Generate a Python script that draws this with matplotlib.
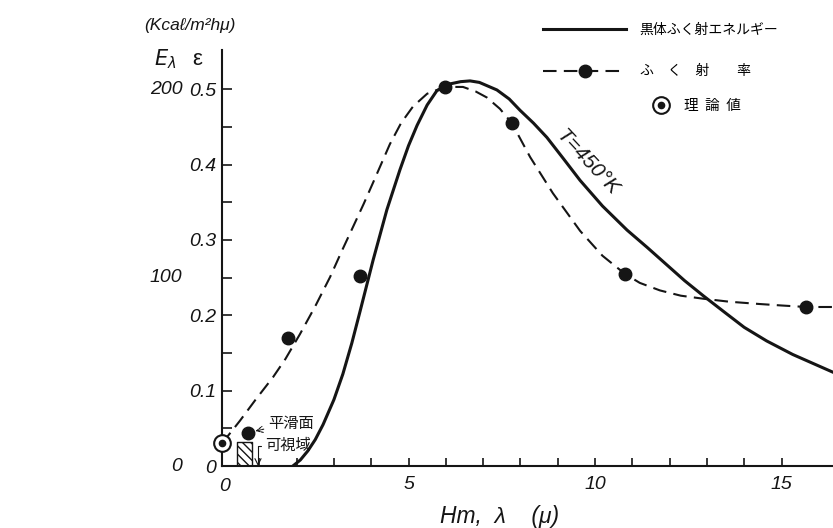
import matplotlib
matplotlib.use("Agg")
import matplotlib.pyplot as plt
from matplotlib.lines import Line2D
from matplotlib.legend_handler import HandlerTuple
from matplotlib.ticker import FixedLocator
import matplotlib.transforms as mtransforms

# black body energy at T=450 K (read on the emissivity scale)
bb_lam = [1.90, 2.10, 2.30, 2.50, 2.71, 3.00, 3.24, 3.48, 3.70, 4.05, 4.42, 4.77,
          5.00, 5.23, 5.50, 5.76, 6.11, 6.40, 6.65, 6.90, 7.37, 7.70, 7.99, 8.35,
          8.71, 9.15, 9.60, 10.20, 10.86, 11.40, 11.90, 12.40, 12.90, 13.50,
          14.00, 14.60, 15.30, 16.40]
bb_eps = [0.000, 0.008, 0.020, 0.035, 0.055, 0.088, 0.122, 0.163, 0.205, 0.273,
          0.340, 0.393, 0.425, 0.452, 0.479, 0.498, 0.507, 0.510, 0.511, 0.509,
          0.499, 0.487, 0.472, 0.455, 0.436, 0.408, 0.379, 0.345, 0.313, 0.290,
          0.268, 0.246, 0.226, 0.203, 0.184, 0.166, 0.148, 0.124]

# emissivity curve (dashed)
em_lam = [0.00, 0.48, 0.90, 1.37, 1.70, 2.09, 2.50, 2.90, 3.20, 3.51, 3.80, 4.05,
          4.50, 4.80, 5.12, 5.50, 5.98, 6.46, 6.80, 7.10, 7.45, 7.77, 8.26, 8.87,
          9.60, 10.20, 10.80, 11.20, 11.74, 12.30, 12.90, 13.60, 14.40, 15.00,
          15.66, 16.40]
em_eps = [0.030, 0.060, 0.088, 0.118, 0.142, 0.175, 0.212, 0.251, 0.284, 0.317,
          0.348, 0.376, 0.427, 0.455, 0.477, 0.494, 0.503, 0.503, 0.497, 0.489,
          0.474, 0.455, 0.410, 0.362, 0.312, 0.279, 0.255, 0.243, 0.233, 0.226,
          0.222, 0.218, 0.215, 0.213, 0.211, 0.211]

# measured emissivity
pt_lam = [0.70, 1.77, 3.70, 5.98, 7.77, 10.80, 15.66]
pt_eps = [0.044, 0.170, 0.252, 0.503, 0.455, 0.255, 0.211]

# theoretical value
th_lam = [0.0]
th_eps = [0.030]

# visible range
vis_band = [0.4, 0.8]
vis_top = 0.032

eps_ticks = [0, 0.1, 0.2, 0.3, 0.4, 0.5]
eps_labels = ["0", "0.1", "0.2", "0.3", "0.4", "0.5"]
eps_minor = [0.05, 0.15, 0.25, 0.35, 0.45]
E_pos = [0, 0.25, 0.5]
E_labels = ["0", "100", "200"]
lam_ticks = [5, 10, 15]
lam_labels = ["5", "10", "15"]
lam_minor = list(range(1, 16))

NUM = ["Liberation Sans", "DejaVu Sans"]
JP = ["Noto Sans CJK JP", "DejaVu Sans"]
INK = "#151515"

fig = plt.figure(figsize=(8.33, 5.28), dpi=100)
ax = fig.add_axes([0.2665, 0.1174, 0.7335, 0.7879])
ax.set_xlim(0, 16.38)
ax.set_ylim(0, 0.552)
for s in ["top", "right"]:
    ax.spines[s].set_visible(False)
for s in ["left", "bottom"]:
    ax.spines[s].set_linewidth(1.5)
    ax.spines[s].set_color(INK)

ax.plot(bb_lam, bb_eps, color=INK, lw=2.2)
ax.plot(em_lam, em_eps, color=INK, lw=1.5, dashes=(6.5, 3.5))
ax.plot(pt_lam, pt_eps, "o", color=INK, ms=9, ls="none", zorder=4)
ax.plot(th_lam, th_eps, "o", mfc="white", mec=INK, ms=12, mew=1.5,
        clip_on=False, zorder=5)
ax.plot(th_lam, th_eps, "o", color=INK, ms=4.5, clip_on=False, zorder=6)

plt.rcParams["hatch.linewidth"] = 1.0
ax.fill_between(vis_band, 0, vis_top, facecolor="none", edgecolor=INK,
                hatch="\\\\\\\\", lw=1.0)

# ticks
ax.xaxis.set_major_locator(FixedLocator(lam_ticks))
ax.xaxis.set_minor_locator(FixedLocator(lam_minor))
ax.set_xticklabels(lam_labels, family=NUM, style="italic", fontsize=14)
ax.yaxis.set_major_locator(FixedLocator(eps_ticks))
ax.yaxis.set_minor_locator(FixedLocator(eps_minor))
ax.set_yticklabels(eps_labels, family=NUM, style="italic", fontsize=14)
ax.tick_params(axis="x", which="both", direction="in", length=6, width=1.2,
               pad=7, colors=INK)
ax.tick_params(axis="y", which="both", direction="in", length=7, width=1.2,
               pad=4, colors=INK)

ytr = ax.get_yaxis_transform()
for v, s in zip(E_pos, E_labels):
    ax.text(-0.065, v, s, transform=ytr, ha="right", va="center",
            family=NUM, style="italic", fontsize=14, color=INK)

xtr = mtransforms.blended_transform_factory(ax.transData, ax.transAxes)
ax.text(0.08, -0.05, "0", transform=xtr, ha="center", va="center",
        family=NUM, style="italic", fontsize=14, color=INK)

ax.text(-0.093, 0.978, r"$E_\lambda$", transform=ax.transAxes, ha="center",
        va="center", fontsize=15, color=INK)
ax.text(-0.041, 0.978, "ε", transform=ax.transAxes, ha="center",
        va="center", family=NUM, fontsize=16, color=INK)
ax.text(-0.052, 1.06, "(Kcaℓ/m²hμ)", transform=ax.transAxes, ha="center",
        va="center", family=NUM, style="italic", fontsize=12.5,
        color=INK, clip_on=False)

ax.set_xlabel("Hm,  λ    (μ)", family=NUM, style="italic", fontsize=16.5,
              color=INK)
ax.xaxis.set_label_coords(0.455, -0.094)

ax.text(9.79, 0.403, "T=450°K", rotation=-47, rotation_mode="anchor",
        ha="center", va="center", family=NUM, style="italic", fontsize=15,
        color=INK)

ax.annotate("平滑面", xy=(0.86, 0.046), xytext=(1.23, 0.057), ha="left",
            va="center", family=JP, fontsize=11, color=INK,
            arrowprops=dict(arrowstyle="->", lw=0.8, color=INK,
                            linestyle=(0, (2, 1)), shrinkA=1, shrinkB=1))
ax.annotate("可視域", xy=(0.965, 0.0), xytext=(1.16, 0.027), ha="left",
            va="center", family=JP, fontsize=11, color=INK,
            arrowprops=dict(arrowstyle="->", lw=0.8, color=INK,
                            connectionstyle="angle,angleA=0,angleB=90,rad=0",
                            shrinkA=1, shrinkB=0))

# legend
h_bb = Line2D([], [], color=INK, lw=2.2)
h_em = Line2D([], [], color=INK, lw=1.5, dashes=(6.5, 3.5), marker="o", ms=9)
leg1 = fig.legend([h_bb, h_em],
                  ["黒体ふく射エネルギー", "ふ\u3000く\u3000射\u3000\u3000率"],
                  loc="upper left", bbox_to_anchor=(0.652, 0.957),
                  frameon=False, borderpad=0, borderaxespad=0,
                  handlelength=6.0, handletextpad=0.95, labelspacing=2.0,
                  prop={"family": JP, "size": 10})
h_th = (Line2D([], [], ls="none", marker="o", mfc="white", mec=INK, ms=12,
               mew=1.5),
        Line2D([], [], ls="none", marker="o", color=INK, ms=4.5))
leg2 = fig.legend([h_th], ["理  論  値"], loc="upper left",
                  bbox_to_anchor=(0.779, 0.812), frameon=False, borderpad=0,
                  borderaxespad=0, handlelength=1.6, handletextpad=0.8,
                  handler_map={tuple: HandlerTuple(ndivide=1)},
                  prop={"family": JP, "size": 10.5})

fig.savefig("out.png", dpi=100, facecolor="white")
